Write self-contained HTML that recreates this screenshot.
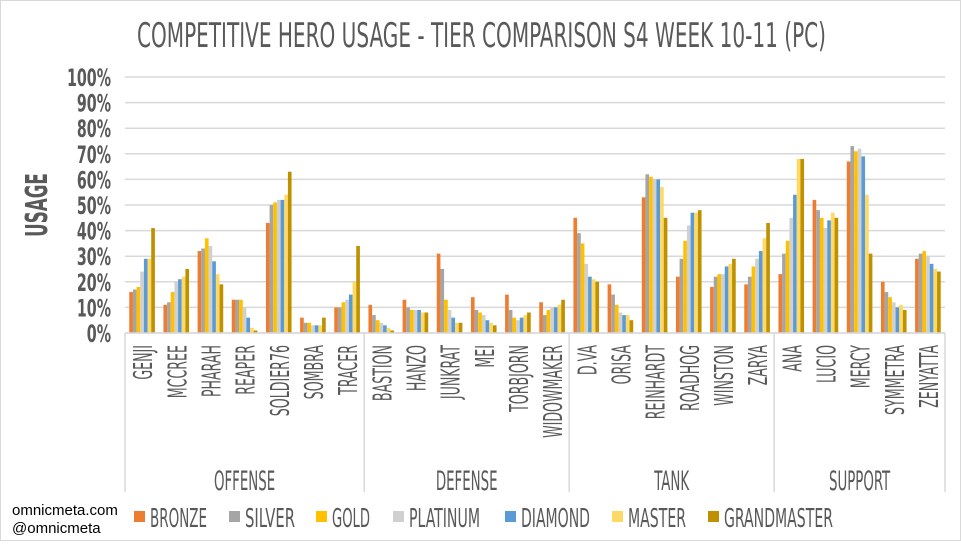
<!DOCTYPE html>
<html><head><meta charset="utf-8"><style>
html,body{margin:0;padding:0;background:#fff;}
svg text{font-family:"Liberation Sans Narrow","DejaVu Sans Condensed","DejaVu Sans","Liberation Sans",sans-serif;fill:#595959;}
</style></head><body>
<svg id="chart" width="961" height="541" xmlns="http://www.w3.org/2000/svg">
<rect x="0.5" y="0.5" width="960" height="540" fill="#fff" stroke="#d9d9d9"/>
<text x="137" y="47" font-size="34" textLength="689" lengthAdjust="spacingAndGlyphs">COMPETITIVE HERO USAGE - TIER COMPARISON S4 WEEK 10-11 (PC)</text>
<text transform="translate(47,205) rotate(-90) scale(0.62,1)" text-anchor="middle" font-size="30" font-weight="bold">USAGE</text>
<g id="grid"></g><g id="bars"></g><g id="xlabels"></g>
<text x="12" y="515" font-size="15" style="font-family:'Liberation Sans',sans-serif;fill:#000">omnicmeta.com</text>
<text x="12" y="533" font-size="15" style="font-family:'Liberation Sans',sans-serif;fill:#000">@omnicmeta</text>
<g id="legend"></g>
</svg>
<script>
const heroes=["GENJI","MCCREE","PHARAH","REAPER","SOLDIER76","SOMBRA","TRACER","BASTION","HANZO","JUNKRAT","MEI","TORBJORN","WIDOWMAKER","D.VA","ORISA","REINHARDT","ROADHOG","WINSTON","ZARYA","ANA","LUCIO","MERCY","SYMMETRA","ZENYATTA"];
const groups=["OFFENSE","DEFENSE","TANK","SUPPORT"];
const groupSizes=[7,6,6,5];
const tiers=["BRONZE","SILVER","GOLD","PLATINUM","DIAMOND","MASTER","GRANDMASTER"];
const bronze=[16,11,32,13,43,6,10,11,13,31,14,15,12,45,19,53,22,18,19,23,52,67,20,29];
const silver=[17,12,33,13,50,4,10,7,10,25,9,9,7,39,15,62,29,22,22,31,48,73,16,31];
const gold=[18,16,37,13,51,4,12,5,9,13,8,6,9,35,11,61,36,23,26,36,45,71,14,32];
const platinum=[24,20,34,10,52,3,13,4,9,9,7,5,10,27,8,60,42,23,29,45,41,72,12,30];
const diamond=[29,21,28,6,52,3,15,3,9,6,5,6,10,22,7,60,47,26,32,54,44,69,10,27];
const master=[29,22,23,2,54,3,20,2,8,4,4,7,11,21,7,57,47,27,37,68,47,54,11,25];
const grandmaster=[41,25,19,1,63,6,34,1,8,4,3,8,13,20,5,45,48,29,43,68,45,31,9,24];
const yTicks=["0%","10%","20%","30%","40%","50%","60%","70%","80%","90%","100%"];
const series=[bronze,silver,gold,platinum,diamond,master,grandmaster];
const colors=["#ed7d31","#a5a5a5","#ffc000","#d0d0d0","#5b9bd5","#ffd966","#bf9000"];
const NS="http://www.w3.org/2000/svg";
const X0=125,X1=945,Y0=333,Y1=77;
const slot=(X1-X0)/heroes.length;
const y=v=>Y0-(v/100)*(Y0-Y1);
const xs=i=>X0+i*slot;
function mk(tag,attrs,parent){const e=document.createElementNS(NS,tag);for(const k in attrs)e.setAttribute(k,attrs[k]);parent.appendChild(e);return e;}
const grid=document.getElementById('grid');
yTicks.forEach((t,i)=>{
  const v=i*10;
  const l=mk('line',{x1:X0,x2:X1,y1:y(v),y2:y(v),stroke:'#d9d9d9','stroke-width':1.5},grid);
  
  
  const tx=mk('text',{transform:`translate(111,${y(v)+9}) scale(0.66,1)`,'text-anchor':'end','font-size':24,'font-weight':'bold'},grid);
  tx.textContent=t;
  
  
});
const bars=document.getElementById('bars');
const bw=slot*0.75/7;
series.forEach((s,si)=>{
  s.forEach((v,i)=>{
    const bx=xs(i)+slot*0.125+si*bw;
    const r=mk('rect',{x:bx,y:y(v),width:bw,height:Y0-y(v),fill:colors[si]},bars);
    
    
  });
});
const xl=document.getElementById('xlabels');
heroes.forEach((h,i)=>{
  const cx=xs(i)+slot/2+10;
  const t=mk('text',{transform:`translate(${cx},345) rotate(-90) scale(0.54,1)`,'text-anchor':'end','font-size':26},xl);
  t.textContent=h;
  
  
});
let start=0;
const sep=mk('line',{x1:X0,x2:X0,y1:Y0,y2:492,stroke:'#d9d9d9','stroke-width':1.5},xl);


groups.forEach((g,gi)=>{
  const end=start+groupSizes[gi];
  const l=mk('line',{x1:xs(end),x2:xs(end),y1:Y0,y2:492,stroke:'#d9d9d9','stroke-width':1.5},xl);
  
  
  const t=mk('text',{transform:`translate(${(xs(start)+xs(end))/2},490) scale(0.55,1)`,'text-anchor':'middle','font-size':27},xl);
  t.textContent=g;
  
  
  start=end;
});
const base=mk('line',{x1:X0,x2:X1,y1:Y0,y2:Y0,stroke:'#d9d9d9','stroke-width':1.5},xl);


const lg=document.getElementById('legend');
const lx=[134,229,316,393,505,612,708];
const lw=[57,50,38,71,69,58,109];
tiers.forEach((t,i)=>{
  const g=mk('g',{},lg);
  
  
  mk('rect',{x:lx[i],y:511,width:11,height:11,fill:colors[i]},g);
  const tx=mk('text',{x:lx[i]+16,y:527,'font-size':26,textLength:lw[i],lengthAdjust:'spacingAndGlyphs'},g);
  tx.textContent=t;
});
</script>
</body></html>
